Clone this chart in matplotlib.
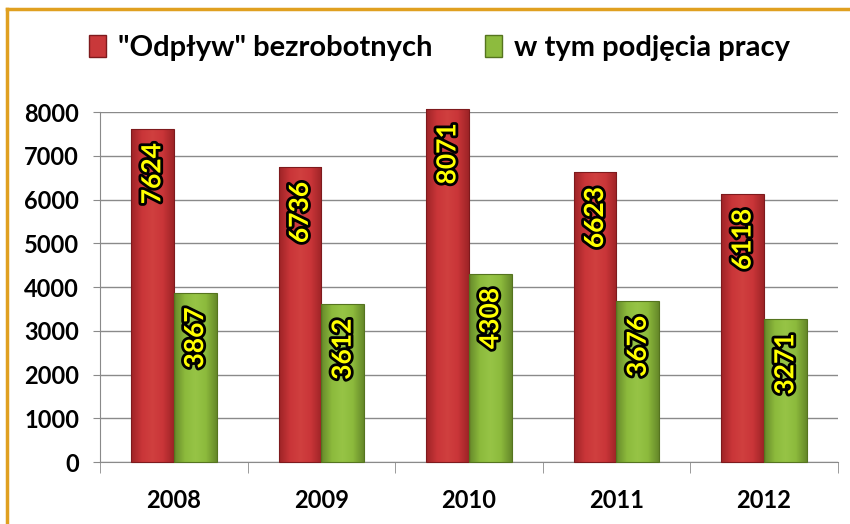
import numpy as np
import matplotlib.pyplot as plt
import matplotlib.patheffects as pe
from matplotlib.lines import Line2D
from matplotlib.patches import Patch
from matplotlib.colors import LinearSegmentedColormap

years = ['2008', '2009', '2010', '2011', '2012']
odplyw = [7624, 6736, 8071, 6623, 6118]
podjecia = [3867, 3612, 4308, 3676, 3271]
series_names = ['"Odpływ" bezrobotnych', 'w tym podjęcia pracy']

plt.rcParams['font.family'] = ['Lato', 'DejaVu Sans']
plt.rcParams['font.weight'] = 'bold'

fig = plt.figure(figsize=(8.5, 5.24), dpi=100)
ax = fig.add_axes([0.1176, 0.118, 0.868, 0.668])

red = '#C9383A'
green = '#8DBB3E'
red_cmap = LinearSegmentedColormap.from_list(
    'r', ['#9E2427', '#C93538', '#D0403F', '#C93538', '#9E2427'])
green_cmap = LinearSegmentedColormap.from_list(
    'g', ['#66892A', '#8CBA3C', '#97C446', '#8CBA3C', '#66892A'])

x = np.arange(len(years))
w = 0.29
grad = np.linspace(0, 1, 64).reshape(1, -1)


def shaded_bars(xs, vals, cmap, edge):
    bars = ax.bar(xs, vals, w, color='none', edgecolor=edge, lw=0.8,
                  clip_on=False, zorder=4)
    for b in bars:
        x0, y0 = b.get_x(), b.get_y()
        im = ax.imshow(grad, cmap=cmap, aspect='auto', zorder=3,
                       extent=[x0, x0 + b.get_width(), y0, y0 + b.get_height()])
        im.set_clip_path(b)
        im.set_clip_on(True)
    return bars


shaded_bars(x - w/2, odplyw, red_cmap, '#7E1A1D')
shaded_bars(x + w/2, podjecia, green_cmap, '#55741F')

# value labels, rotated, yellow with black outline
outline = [pe.withStroke(linewidth=4, foreground='black')]
for xs, vals in ((x - w/2, odplyw), (x + w/2, podjecia)):
    for xi, v in zip(xs, vals):
        ax.text(xi, v - 330, str(v), rotation=90, ha='center', va='top',
                color='#FFFF00', fontsize=19, fontweight='bold',
                path_effects=outline, zorder=5)

ax.set_xlim(-0.5, len(years) - 0.5)
ax.set_ylim(0, 8000)
ax.set_yticks(np.arange(0, 8001, 1000))
ax.yaxis.grid(True, color='#8a8a8a', lw=1)
ax.set_axisbelow(True)

ax.set_xticks(x)
ax.set_xticklabels(years, fontsize=17, fontweight='bold')
ax.set_xticks(np.arange(-0.5, len(years)), minor=True)
ax.tick_params(axis='x', which='major', length=0, pad=19)
ax.tick_params(axis='x', which='minor', length=8, color='#8a8a8a')
ax.tick_params(axis='y', length=5, color='#8a8a8a', labelsize=17, pad=10)

for s in ('top', 'right'):
    ax.spines[s].set_visible(False)
for s in ('left', 'bottom'):
    ax.spines[s].set_color('#8a8a8a')

handles = [Patch(facecolor=red, edgecolor='#7E1A1D'),
           Patch(facecolor=green, edgecolor='#55741F')]
fig.legend(handles, series_names, loc='center', bbox_to_anchor=(0.517, 0.908),
           ncol=2, frameon=False, handlelength=0.6,
           handleheight=0.8, handletextpad=0.4, columnspacing=1.8,
           prop={'weight': 'bold', 'size': 21})

# orange frame edges
fig.add_artist(Line2D([0.008, 0.008], [0, 0.983], color='#E0A020', lw=2.5,
                      transform=fig.transFigure))
fig.add_artist(Line2D([0.008, 1.0], [0.983, 0.983], color='#E0A020', lw=2.5,
                      transform=fig.transFigure))

fig.savefig('out.png', dpi=100)
